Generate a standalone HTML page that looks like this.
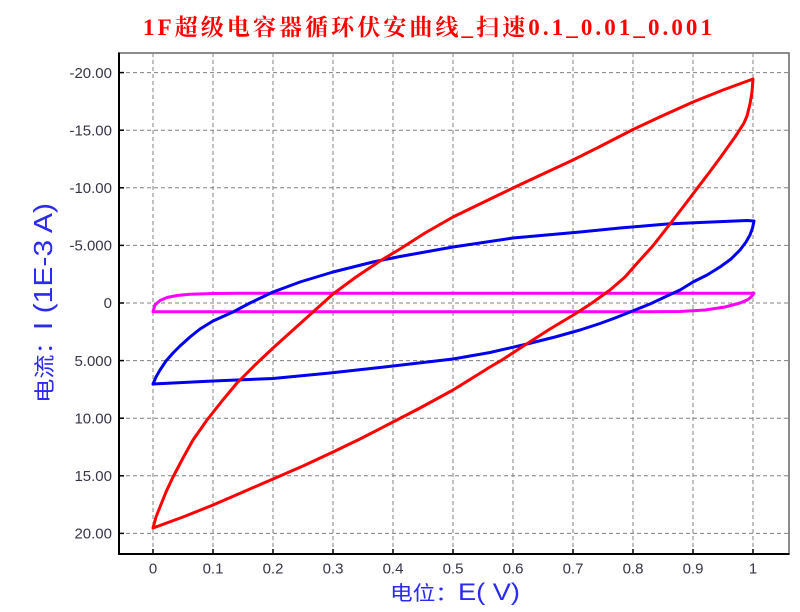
<!DOCTYPE html>
<html>
<head>
<meta charset="utf-8">
<style>
html,body{margin:0;padding:0;background:#fff;}
svg{display:block;}
</style>
</head>
<body>
<svg width="800" height="612" viewBox="0 0 800 612" xmlns="http://www.w3.org/2000/svg">
<rect x="0" y="0" width="800" height="612" fill="#fff"/>
<!-- title -->
<text x="143" y="35" textLength="569" lengthAdjust="spacing" font-family="'Liberation Serif','Noto Serif CJK SC',serif" font-size="23" font-weight="bold" fill="#ff0000">1F超级电容器循环伏安曲线_扫速0.1_0.01_0.001</text>

<!-- plot area -->
<rect x="119" y="53" width="670" height="501" fill="#fff" stroke="#666" stroke-width="1.5"/>

<!-- grid -->
<g stroke="#808080" stroke-width="1" stroke-dasharray="4,3" fill="none">
<line x1="153" y1="53" x2="153" y2="554"/>
<line x1="213" y1="53" x2="213" y2="554"/>
<line x1="273" y1="53" x2="273" y2="554"/>
<line x1="333" y1="53" x2="333" y2="554"/>
<line x1="393" y1="53" x2="393" y2="554"/>
<line x1="453" y1="53" x2="453" y2="554"/>
<line x1="513" y1="53" x2="513" y2="554"/>
<line x1="573" y1="53" x2="573" y2="554"/>
<line x1="633" y1="53" x2="633" y2="554"/>
<line x1="693" y1="53" x2="693" y2="554"/>
<line x1="753" y1="53" x2="753" y2="554"/>
<line x1="119" y1="72.6" x2="789" y2="72.6"/>
<line x1="119" y1="130.2" x2="789" y2="130.2"/>
<line x1="119" y1="187.8" x2="789" y2="187.8"/>
<line x1="119" y1="245.4" x2="789" y2="245.4"/>
<line x1="119" y1="303" x2="789" y2="303"/>
<line x1="119" y1="360.6" x2="789" y2="360.6"/>
<line x1="119" y1="418.2" x2="789" y2="418.2"/>
<line x1="119" y1="475.8" x2="789" y2="475.8"/>
<line x1="119" y1="533.4" x2="789" y2="533.4"/>
</g>

<!-- axes -->
<line x1="119" y1="52.5" x2="119" y2="555" stroke="#000" stroke-width="2"/>
<line x1="118" y1="554" x2="789.5" y2="554" stroke="#000" stroke-width="2"/>
<g stroke="#000" stroke-width="1.5">
<line x1="153" y1="554" x2="153" y2="549"/>
<line x1="213" y1="554" x2="213" y2="549"/>
<line x1="273" y1="554" x2="273" y2="549"/>
<line x1="333" y1="554" x2="333" y2="549"/>
<line x1="393" y1="554" x2="393" y2="549"/>
<line x1="453" y1="554" x2="453" y2="549"/>
<line x1="513" y1="554" x2="513" y2="549"/>
<line x1="573" y1="554" x2="573" y2="549"/>
<line x1="633" y1="554" x2="633" y2="549"/>
<line x1="693" y1="554" x2="693" y2="549"/>
<line x1="753" y1="554" x2="753" y2="549"/>
<line x1="119" y1="72.6" x2="124" y2="72.6"/>
<line x1="119" y1="130.2" x2="124" y2="130.2"/>
<line x1="119" y1="187.8" x2="124" y2="187.8"/>
<line x1="119" y1="245.4" x2="124" y2="245.4"/>
<line x1="119" y1="303" x2="124" y2="303"/>
<line x1="119" y1="360.6" x2="124" y2="360.6"/>
<line x1="119" y1="418.2" x2="124" y2="418.2"/>
<line x1="119" y1="475.8" x2="124" y2="475.8"/>
<line x1="119" y1="533.4" x2="124" y2="533.4"/>
</g>

<!-- y tick labels -->
<g font-family="'Liberation Sans',Arial,sans-serif" font-size="15" fill="#363646" text-anchor="end">
<text x="112" y="78">-20.00</text>
<text x="112" y="135.5">-15.00</text>
<text x="112" y="193">-10.00</text>
<text x="112" y="250.5">-5.000</text>
<text x="112" y="308">0</text>
<text x="112" y="366">5.000</text>
<text x="112" y="423.5">10.00</text>
<text x="112" y="481">15.00</text>
<text x="112" y="538.5">20.00</text>
</g>
<!-- x tick labels -->
<g font-family="'Liberation Sans',Arial,sans-serif" font-size="15" fill="#363646" text-anchor="middle">
<text x="153" y="573.5">0</text>
<text x="213" y="573.5">0.1</text>
<text x="273" y="573.5">0.2</text>
<text x="333" y="573.5">0.3</text>
<text x="393" y="573.5">0.4</text>
<text x="453" y="573.5">0.5</text>
<text x="513" y="573.5">0.6</text>
<text x="573" y="573.5">0.7</text>
<text x="633" y="573.5">0.8</text>
<text x="693" y="573.5">0.9</text>
<text x="753" y="573.5">1</text>
</g>

<!-- axis titles -->
<text x="390" y="600" textLength="130" lengthAdjust="spacingAndGlyphs" fill="#2a2af0" font-family="'Liberation Sans','Noto Sans CJK SC',sans-serif"><tspan font-size="20">电位：</tspan><tspan font-size="24">E( V)</tspan></text>
<text transform="translate(52,403) rotate(-90)" x="0" y="0" textLength="200" lengthAdjust="spacingAndGlyphs" fill="#2a2af0" font-family="'Liberation Sans','Noto Sans CJK SC',sans-serif"><tspan font-size="21">电流：</tspan><tspan font-size="26">I (1E-3 A)</tspan></text>

<!-- series -->
<g fill="none" stroke-width="3" stroke-linejoin="round" stroke-linecap="round">
<polyline stroke="#ff00ff" points="153,311.7 155,305 160,300.5 167,297.5 177,295.5 190,294.2 213,293.5 240,293.3 754,293.3 751,297 748,299.5 740,303 725,307 705,310 680,311.5 650,311.7 153,311.7"/>
<polyline stroke="#0000ee" points="153,384 213,381 273,378.5 330,373 393,366 453,359 490,352.5 527,344 555,337 580,330 600,323.5 615,318 630,312 650,304 667,296 680,290 693,282 707,275 720,267 731,259 740,250 746,242 750,235 752.5,228 754,221 747,220.5 700,222.5 667,224 620,228 580,232 513,238 453,247 400,256.5 373,262 333,272 300,282 273,292 250,303 233,312 213,321 200,329 190,337 180,346 173,353 166,361 160,370 156,377 153,384"/>
<polyline stroke="#ff0000" points="153,528 156,517 160,507 166,492 173,477 183,458 193,440 207,420 222,401 237,383 255,365 273,348 293,330 313,312 333,294 356,277 380,261 400,249 425,233 453,217 485,201.5 513,188 545,173 573,160 600,146.5 633,129.5 663,115.5 693,102 723,90 753,79 752,92 750,104 747,116 744,123 740,129.3 735,137 730,144 725,151 720,158 710,171.5 698,187.3 685,204.5 670,224 653,245.7 640,260 625,277 610,290 592,303 575,314 550,329 525,345 501,360.6 490,367 470,379.5 453,390 420,408 393,422 360,439 333,452 303,466 273,479 243,492 213,505 183,517 153,528"/>
</g>
</svg>
</body>
</html>
